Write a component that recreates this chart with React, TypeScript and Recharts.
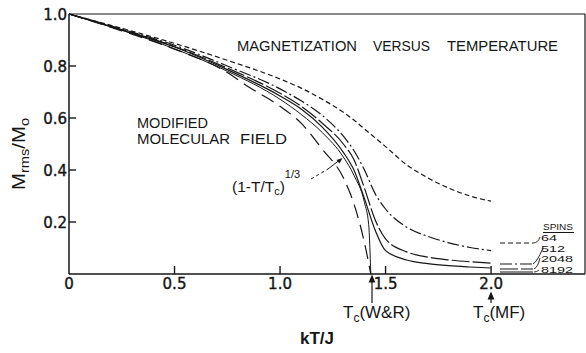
import { LineChart, Line, XAxis, YAxis } from 'recharts'

// kT/J sample points for the finite-lattice runs
const spinTemps = [0, 0.25, 0.5, 0.75, 1.0, 1.1, 1.2, 1.3, 1.35, 1.4, 1.45, 1.5, 1.6, 1.7, 1.8, 1.9, 2.0]
const spins64 = [1.0, 0.945, 0.887, 0.822, 0.75, 0.715, 0.672, 0.622, 0.592, 0.558, 0.524, 0.49, 0.42, 0.37, 0.33, 0.3, 0.28]
const spins512 = [1.0, 0.942, 0.88, 0.8, 0.712, 0.666, 0.61, 0.53, 0.475, 0.4, 0.31, 0.25, 0.18, 0.145, 0.12, 0.102, 0.09]
const spins2048 = [1.0, 0.94, 0.875, 0.792, 0.695, 0.645, 0.58, 0.5, 0.44, 0.33, 0.21, 0.135, 0.085, 0.065, 0.054, 0.047, 0.042]
const spins8192 = [1.0, 0.938, 0.873, 0.786, 0.685, 0.635, 0.565, 0.468, 0.4, 0.29, 0.17, 0.09, 0.054, 0.04, 0.032, 0.027, 0.023]

// (1 - T/Tc)^1/3 curve, Tc from W&R
const wrTemps = [0, 0.25, 0.5, 0.75, 1.0, 1.1, 1.2, 1.3, 1.35, 1.4, 1.42, 1.43]
const wrValues = [1.0, 0.938, 0.866, 0.78, 0.672, 0.614, 0.544, 0.45, 0.38, 0.275, 0.19, 0]

// modified molecular field
const mmfTemps = [0, 0.25, 0.5, 0.75, 0.85, 1.0, 1.1, 1.2, 1.3, 1.35, 1.4, 1.43]
const mmfValues = [1.0, 0.935, 0.865, 0.775, 0.72, 0.645, 0.58, 0.48, 0.37, 0.27, 0.12, 0]

const spinCounts = ['64', '512', '2048', '8192']
const xTicks = [0, 0.5, 1.0, 1.5, 2.0]
const yTicks = [0.2, 0.4, 0.6, 0.8, 1.0]
const X_MAX = 2.445

const INK = '#161616'
const FONT = '"Liberation Sans", Arial, sans-serif'
const NUM_FONT = '"DejaVu Sans", sans-serif'

const dashes: Record<string, string | undefined> = {
  '64': '5 3',
  '512': '12 3 2 3',
  '2048': '18 3',
  '8192': undefined,
}

const zip = (xs: number[], ys: number[]) => xs.map((x, i) => ({ x, y: ys[i] }))

const spinSeries = [spins64, spins512, spins2048, spins8192].map((vals, i) => ({
  name: spinCounts[i],
  data: zip(spinTemps, vals),
}))

function BottomTick({ x, y, payload }: any) {
  const v = payload.value
  return (
    <g>
      {v > 0 && <line x1={x} y1={y} x2={x} y2={y - 8} stroke={INK} strokeWidth={1.4} />}
      <text x={x} y={y + 15} textAnchor="middle" fontSize={15} fontFamily={NUM_FONT} fill={INK} stroke={INK} strokeWidth={0.4}>
        {v === 0 ? '0' : v.toFixed(1)}
      </text>
    </g>
  )
}

function LeftTick({ x, y, payload }: any) {
  const v = payload.value
  return (
    <g>
      {v < 1 && <line x1={x} y1={y} x2={x + 7} y2={y} stroke={INK} strokeWidth={1.4} />}
      <text x={x - 2} y={y + 5.5} textAnchor="end" fontSize={15} fontFamily={NUM_FONT} fill={INK} stroke={INK} strokeWidth={0.4}>
        {v.toFixed(1)}
      </text>
    </g>
  )
}

function TopTick({ x, y }: any) {
  return <line x1={x} y1={y} x2={x} y2={y + 7} stroke={INK} strokeWidth={1.4} />
}

function RightTick({ x, y }: any) {
  return <line x1={x} y1={y} x2={x - 7} y2={y} stroke={INK} strokeWidth={1.4} />
}

function Arrow({ x, y1, y2 }: { x: number; y1: number; y2: number }) {
  // arrow pointing up, tip at y1
  return (
    <g stroke={INK} strokeWidth={1.2} fill={INK}>
      <line x1={x} y1={y1 + 2} x2={x} y2={y2} />
      <path d={`M${x} ${y1} L${x - 2.5} ${y1 + 6} L${x + 2.5} ${y1 + 6} Z`} />
    </g>
  )
}

const legendRows = [
  { name: '64', swatchY: 243, labelY: 241, leader: 'M533 243 Q538 243 540 237' },
  { name: '512', swatchY: 264, labelY: 251.5, leader: 'M533 264 Q537 262 543 248' },
  { name: '2048', swatchY: 269, labelY: 262, leader: 'M534 269 Q538 267 540 258' },
  { name: '8192', swatchY: 272, labelY: 273, leader: 'M534 272 Q537 272 539 270' },
]

function Annotations() {
  return (
    <svg width={586} height={353} style={{ position: 'absolute', left: 0, top: 0, pointerEvents: 'none' }}>
      <g fontFamily={FONT} fill={INK}>
        {/* y axis title */}
        <text transform="translate(25,154) rotate(-90)" textAnchor="middle" fontSize={17.5} textLength={72} lengthAdjust="spacingAndGlyphs">
          M<tspan fontSize={12.5} dy={4}>rms</tspan>
          <tspan dy={-4}>/M</tspan>
          <tspan fontSize={12.5} dy={4}>o</tspan>
        </text>

        <text x={237} y={51} fontSize={14.5} textLength={120} lengthAdjust="spacingAndGlyphs">MAGNETIZATION</text>
        <text x={373} y={51} fontSize={14.5} textLength={57} lengthAdjust="spacingAndGlyphs">VERSUS</text>
        <text x={447} y={51} fontSize={14.5} textLength={111} lengthAdjust="spacingAndGlyphs">TEMPERATURE</text>

        <text x={137} y={128} fontSize={15.5} textLength={71} lengthAdjust="spacingAndGlyphs">MODIFIED</text>
        <text x={137} y={144} fontSize={15.5} textLength={93} lengthAdjust="spacingAndGlyphs">MOLECULAR</text>
        <text x={240} y={144} fontSize={15.5} textLength={47} lengthAdjust="spacingAndGlyphs">FIELD</text>

        <text x={232} y={192} fontSize={15.5}>
          (1-T/T<tspan fontSize={11} dy={3}>c</tspan>
          <tspan dy={-3}>)</tspan>
          <tspan fontSize={11} dy={-14}>1/3</tspan>
        </text>
        <path d="M311 179 L328 169" stroke={INK} strokeWidth={1} strokeDasharray="3 3" fill="none" />
        <path d="M328 169 L341 159" stroke={INK} strokeWidth={1} fill="none" />
        <path d="M342.5 158 L336.5 160 L339.5 163.5 Z" fill={INK} />

        <Arrow x={372} y1={276} y2={303} />
        <text x={343} y={318} fontSize={17}>
          T<tspan fontSize={12} dy={4}>c</tspan>
          <tspan dy={-4}>(W&amp;R)</tspan>
        </text>
        <Arrow x={491} y1={293} y2={303} />
        <text x={473} y={318} fontSize={17}>
          T<tspan fontSize={12} dy={4}>c</tspan>
          <tspan dy={-4}>(MF)</tspan>
        </text>

        <text x={300} y={344} fontSize={17} fontWeight="bold">kT/J</text>

        {/* spins legend */}
        <text x={543} y={230} fontSize={9.5} textLength={30} lengthAdjust="spacingAndGlyphs">SPINS</text>
        <line x1={543} y1={232.5} x2={574} y2={232.5} stroke={INK} strokeWidth={1} />
        {legendRows.map((row) => (
          <g key={row.name}>
            <line x1={500} y1={row.swatchY} x2={533} y2={row.swatchY} stroke={INK} strokeWidth={1.2} strokeDasharray={dashes[row.name]} />
            <path d={row.leader} stroke={INK} strokeWidth={0.9} fill="none" />
            <text x={541} y={row.labelY} fontSize={9} textLength={row.name.length * 8} lengthAdjust="spacingAndGlyphs">
              {row.name}
            </text>
          </g>
        ))}
      </g>
    </svg>
  )
}

export default function App() {
  return (
    <div style={{ position: 'absolute', left: 0, top: 0, width: 586, height: 353, background: '#fff' }}>
      <LineChart width={586} height={353} margin={{ top: 13, right: 0, bottom: 0, left: 0 }}>
        <XAxis
          xAxisId="b"
          type="number"
          dataKey="x"
          domain={[0, X_MAX]}
          ticks={xTicks}
          interval={0}
          height={79}
          tickSize={0}
          tickMargin={0}
          tick={<BottomTick />}
          axisLine={{ stroke: INK, strokeWidth: 1.5 }}
        />
        <XAxis
          xAxisId="t"
          orientation="top"
          type="number"
          dataKey="x"
          domain={[0, X_MAX]}
          ticks={[0.5, 1.0, 1.5, 2.0]}
          interval={0}
          height={1}
          tickSize={0}
          tickMargin={0}
          tick={<TopTick />}
          axisLine={{ stroke: INK, strokeWidth: 1.2 }}
        />
        <YAxis
          yAxisId="l"
          type="number"
          domain={[0, 1]}
          ticks={yTicks}
          interval={0}
          width={69}
          tickSize={0}
          tickMargin={0}
          tick={<LeftTick />}
          axisLine={{ stroke: INK, strokeWidth: 1.5 }}
        />
        <YAxis
          yAxisId="r"
          orientation="right"
          type="number"
          domain={[0, 1]}
          ticks={[0.2, 0.4, 0.6, 0.8]}
          interval={0}
          width={1}
          tickSize={0}
          tickMargin={0}
          tick={<RightTick />}
          axisLine={{ stroke: INK, strokeWidth: 1.2 }}
        />

        <Line
          xAxisId="b"
          yAxisId="l"
          data={zip(mmfTemps, mmfValues)}
          dataKey="y"
          type="monotone"
          stroke={INK}
          strokeWidth={1.2}
          strokeDasharray="14 7"
          dot={false}
          isAnimationActive={false}
        />
        <Line
          xAxisId="b"
          yAxisId="l"
          data={zip(wrTemps, wrValues)}
          dataKey="y"
          type="monotone"
          stroke={INK}
          strokeWidth={1}
          dot={false}
          isAnimationActive={false}
        />
        {spinSeries.map((s) => (
          <Line
            key={s.name}
            xAxisId="b"
            yAxisId="l"
            data={s.data}
            dataKey="y"
            name={s.name}
            type="monotone"
            stroke={INK}
            strokeWidth={1.2}
            strokeDasharray={dashes[s.name]}
            dot={false}
            isAnimationActive={false}
          />
        ))}
      </LineChart>
      <Annotations />
    </div>
  )
}
